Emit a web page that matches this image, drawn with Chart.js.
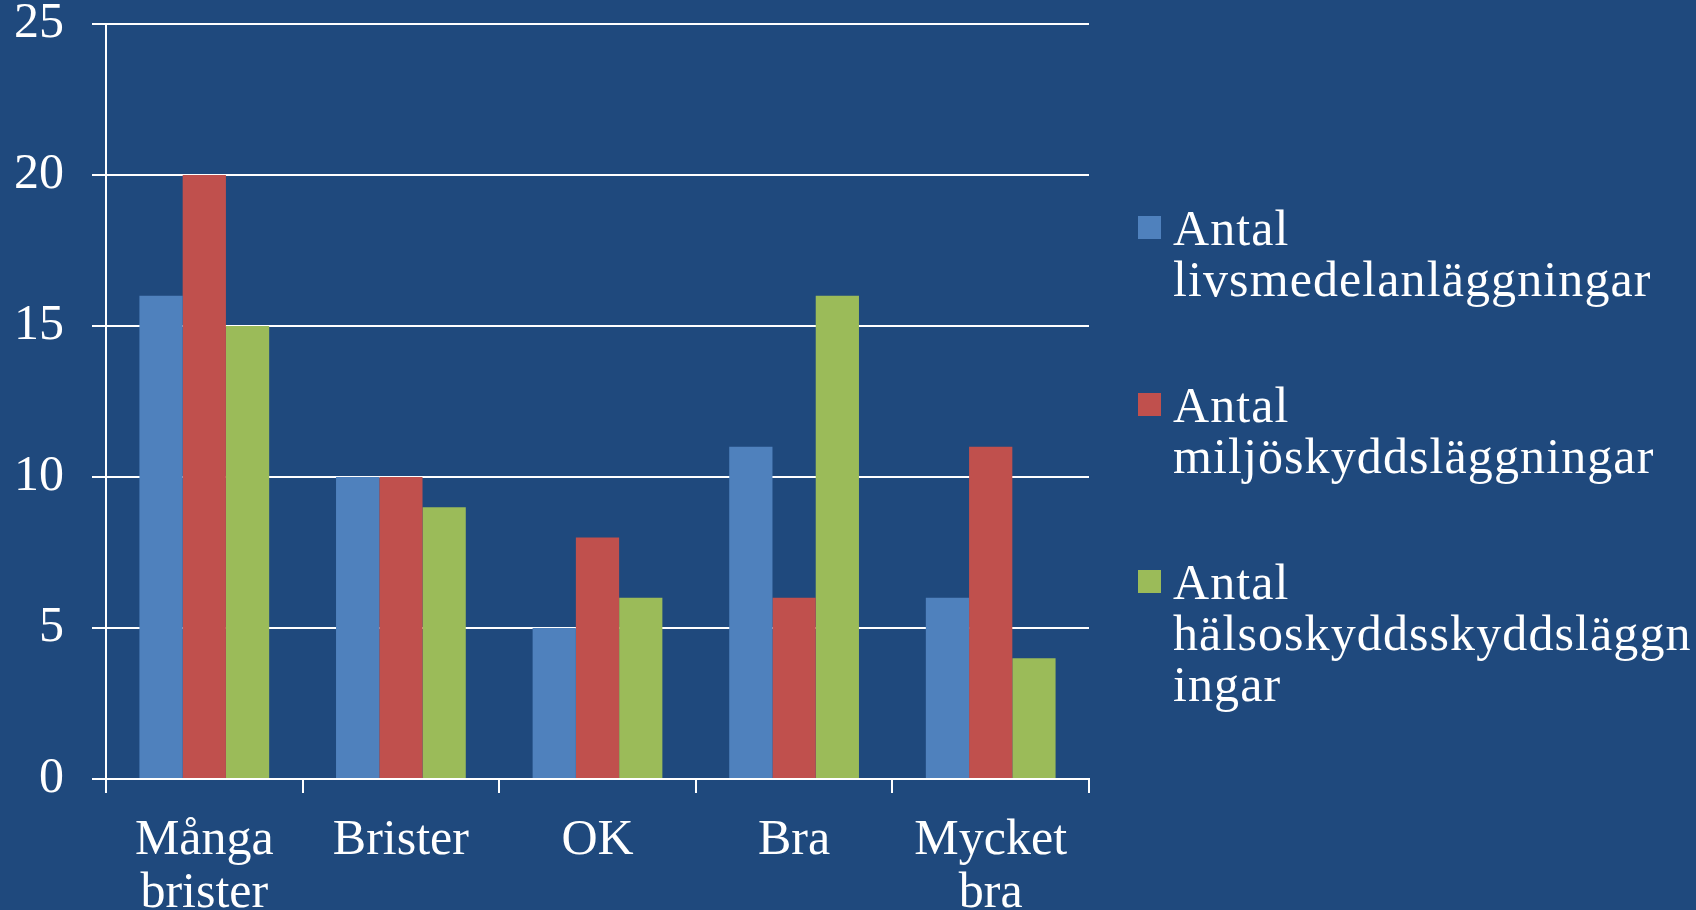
<!DOCTYPE html>
<html>
<head>
<meta charset="utf-8">
<script src="https://cdn.jsdelivr.net/npm/chart.js@4.4.0/dist/chart.umd.min.js"></script>
<style>
  html, body { margin: 0; padding: 0; background: #1F497D; }
  #wrap { position: relative; width: 1696px; height: 910px; overflow: hidden; }
  #legend { position: absolute; left: 1138px; top: 203px; width: 558px;
            font-family: "Liberation Serif", serif; font-size: 50px; line-height: 51px;
            letter-spacing: 1.1px; color: #fff; }
  .item { display: flex; align-items: flex-start; margin-bottom: 75px; }
  .box { flex: 0 0 23px; height: 23px; margin-top: 13px; margin-right: 12px; }
  .txt { flex: 1; overflow-wrap: anywhere; }
</style>
</head>
<body>
<div id="wrap">
  <canvas id="chart" width="1696" height="910"></canvas>
  <div id="legend"></div>
</div>
<script>
const categories = [['Många', 'brister'], 'Brister', 'OK', 'Bra', ['Mycket', 'bra']];
const seriesNames = ['Antal livsmedelanläggningar', 'Antal miljöskyddsläggningar', 'Antal hälsoskyddsskyddsläggningar'];
const livsmedel = [16, 10, 5, 11, 6];
const miljo = [20, 10, 8, 6, 11];
const halso = [15, 9, 6, 16, 4];
const colors = ['#4F81BD', '#C0504D', '#9BBB59'];

const serif = '"Liberation Serif", serif';

const ctx = document.getElementById('chart').getContext('2d');
const chart = new Chart(ctx, {
    type: 'bar',
    data: {
        labels: categories,
        datasets: [livsmedel, miljo, halso].map((d, i) => ({
            label: seriesNames[i],
            data: d,
            backgroundColor: colors[i],
            borderWidth: 0,
            categoryPercentage: 0.66,
            barPercentage: 1.0
        }))
    },
    options: {
        responsive: false,
        devicePixelRatio: 1,
        animation: false,
        layout: { padding: { top: 24, right: 607, left: 0, bottom: 0 } },
        plugins: { legend: { display: false }, tooltip: { enabled: false } },
        scales: {
            x: {
                grid: { drawOnChartArea: false, color: '#fff', lineWidth: 2, tickLength: 14 },
                border: { color: '#fff', width: 2 },
                ticks: { color: '#fff', padding: 22, maxRotation: 0,
                         font: { family: serif, size: 50, lineHeight: 1.05 } },
                afterFit: s => { s.height = 131; }
            },
            y: {
                min: 0,
                max: 25,
                ticks: { stepSize: 5, color: '#fff', padding: 28,
                         font: { family: serif, size: 50 } },
                grid: { color: '#fff', lineWidth: 2, tickLength: 14 },
                border: { color: '#fff', width: 2 },
                afterFit: s => { s.width = 106; s.paddingTop = 0; s.paddingBottom = 0; }
            }
        }
    }
});

// legend built from the dataset labels
const legend = document.getElementById('legend');
chart.data.datasets.forEach(ds => {
    const item = document.createElement('div');
    item.className = 'item';
    item.innerHTML = `<div class="box" style="background:${ds.backgroundColor}"></div><div class="txt">${ds.label}</div>`;
    legend.appendChild(item);
});
</script>
</body>
</html>
